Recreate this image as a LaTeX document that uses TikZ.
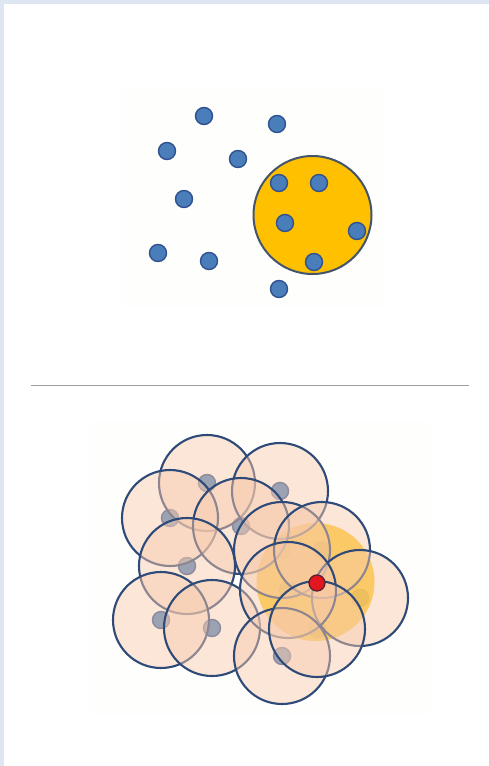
\documentclass[tikz,border=0pt]{standalone}
\usepackage{tikz}
\definecolor{frameblue}{HTML}{DDE6F2}
\definecolor{dotblue}{HTML}{4A7EBB}
\definecolor{dotedge}{HTML}{2F528F}
\definecolor{amber}{HTML}{FFC000}
\definecolor{ringblue}{HTML}{2E4A78}
\definecolor{bigedge}{HTML}{44546A}
\definecolor{peach}{HTML}{F8CBAD}
\definecolor{redpt}{HTML}{E3161F}
\definecolor{sepgray}{HTML}{A0A0A0}
\definecolor{photobg}{HTML}{FEFEFD}
\tikzset{
  dotnode/.style={circle, fill=dotblue, draw=dotedge, line width=1.4pt, minimum size=17pt, inner sep=0pt},
  ring/.style={fill=peach, fill opacity=0.47, draw=ringblue, draw opacity=1, line width=2.1pt},
}
\begin{document}
\begin{tikzpicture}[x=1pt,y=-1pt]
\useasboundingbox (0,0) rectangle (489,766);
\fill[white] (0,0) rectangle (489,766);
\fill[frameblue] (0,0) rectangle (489,4);
\fill[frameblue] (0,0) rectangle (4,766);
% photo backgrounds
\fill[photobg] (121,90) rectangle (386,307);
\fill[photobg] (90,420) rectangle (430,716);
% separator
\draw[sepgray, line width=1pt] (31,385) -- (469,385);

% ---- top panel ----
\node[circle, fill=amber, draw=bigedge, line width=2pt, minimum size=118pt, inner sep=0pt] (big) at (312.5,215) {};
\foreach \n/\x/\y in {a/204/116, b/277/124, c/167/151, d/238/159, e/184/199, f/279/183, g/319/183, h/285/223, i/357/231, j/158/253, k/209/261, l/314/262, m/279/289}
  \node[dotnode] (t\n) at (\x,\y) {};

% ---- bottom panel ----
\begin{scope}[shift={(3,367)}]
\foreach \n/\x/\y in {a/204/116, b/277/124, c/167/151, d/238/159, e/184/199, f/279/183, g/319/183, h/285/223, i/357/231, j/158/253, k/209/261, l/314/262, m/279/289}
  \node[dotnode] (b\n) at (\x,\y) {};
\fill[amber, opacity=0.85] (312.5,215) circle (59);
\foreach \x/\y in {204/116, 277/124, 167/151, 238/159, 184/199, 158/253, 209/261, 279/183, 319/183, 357/231, 285/223, 279/289, 314/262}
  \draw[ring] (\x,\y) circle (48);
\node[circle, fill=redpt, draw=ringblue!60!red!70!black, line width=1.3pt, minimum size=16pt, inner sep=0pt] (red) at (314,216) {};
\end{scope}
\end{tikzpicture}
\end{document}
